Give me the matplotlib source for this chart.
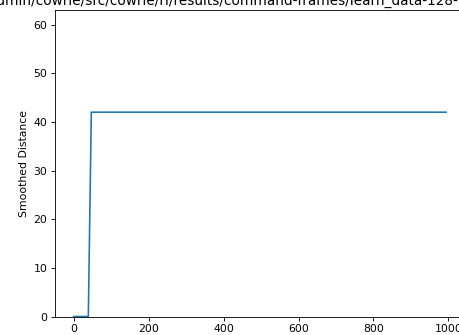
import matplotlib
matplotlib.use('Agg')
import matplotlib.pyplot as plt

# learning curve: smoothed distance per episode (breakpoints)
episodes = [0, 39, 47, 994]
smoothed_distance = [0, 0, 42, 42]

title = 'admin/cowrie/src/cowrie/rl/results/command-frames/learn_data-128-frames.csv'

s = 0.78
plt.rcParams.update({
    'font.size': 10 * s,
    'lines.linewidth': 1.5 * s,
    'axes.linewidth': 0.8 * s,
    'xtick.major.size': 3.5 * s,
    'ytick.major.size': 3.5 * s,
    'xtick.major.width': 0.8 * s,
    'ytick.major.width': 0.8 * s,
    'xtick.major.pad': 3.5 * s,
    'ytick.major.pad': 3.5 * s,
    'axes.labelpad': 4.0 * s,
})

fig = plt.figure(figsize=(4.59, 3.35), dpi=100)
ax = fig.add_axes([0.1198, 0.0552, 0.897, 0.9149])

ax.plot(episodes, smoothed_distance)
ax.set_xlim(-49.95, 1048.95)
ax.set_ylim(0, max(smoothed_distance) * 1.5)
ax.set_ylabel('Smoothed Distance')

fig.text(-12.0 / 459, 1 - 5 / 335, title, ha='left', va='baseline', fontsize=9.8)

fig.savefig('out.png', dpi=100)
